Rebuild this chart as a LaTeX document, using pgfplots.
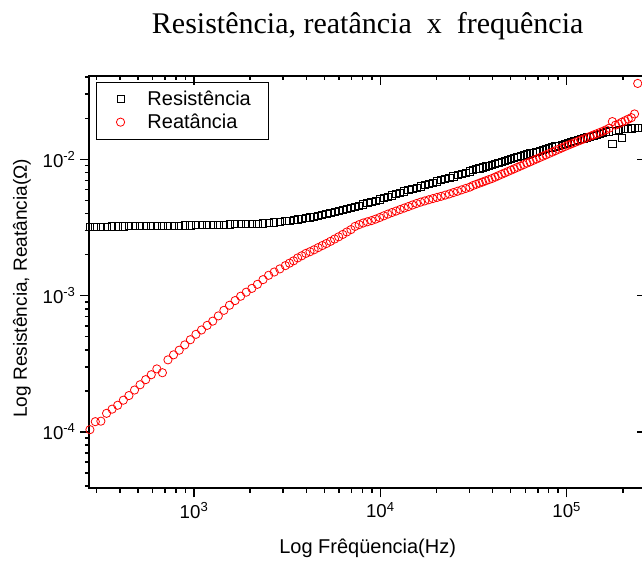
\documentclass[border=0pt]{standalone}
\usepackage{fontspec}
\setmainfont{Liberation Sans}
\newfontfamily\titlefont{Liberation Serif}
\usepackage{pgfplots}
\usepackage{pgfplotstable}
\pgfplotsset{compat=1.18}

\pgfplotstableread{
f R X
276 3.20e-3 1.04e-4
295 3.21e-3 1.19e-4
316 3.21e-3 1.20e-4
339 3.21e-3 1.37e-4
363 3.22e-3 1.47e-4
389 3.22e-3 1.57e-4
417 3.22e-3 1.71e-4
447 3.23e-3 1.85e-4
479 3.23e-3 2.03e-4
513 3.23e-3 2.22e-4
550 3.24e-3 2.42e-4
589 3.24e-3 2.63e-4
631 3.25e-3 2.90e-4
676 3.25e-3 2.72e-4
724 3.25e-3 3.38e-4
776 3.26e-3 3.68e-4
832 3.26e-3 3.98e-4
891 3.27e-3 4.35e-4
955 3.27e-3 4.75e-4
1023 3.28e-3 5.20e-4
1096 3.29e-3 5.60e-4
1175 3.30e-3 6.05e-4
1259 3.31e-3 6.50e-4
1349 3.31e-3 7.10e-4
1445 3.32e-3 7.80e-4
1549 3.33e-3 8.50e-4
1660 3.34e-3 9.20e-4
1778 3.35e-3 9.90e-4
1905 3.36e-3 1.06e-3
2042 3.37e-3 1.13e-3
2188 3.38e-3 1.21e-3
2344 3.39e-3 1.31e-3
2512 3.41e-3 1.41e-3
2692 3.44e-3 1.49e-3
2884 3.47e-3 1.57e-3
3090 3.51e-3 1.66e-3
3251 3.54e-3 1.73e-3
3420 3.58e-3 1.80e-3
3597 3.62e-3 1.89e-3
3784 3.66e-3 1.96e-3
3981 3.70e-3 2.04e-3
4188 3.75e-3 2.10e-3
4406 3.80e-3 2.17e-3
4634 3.86e-3 2.25e-3
4875 3.92e-3 2.33e-3
5129 3.98e-3 2.41e-3
5395 4.04e-3 2.50e-3
5675 4.10e-3 2.60e-3
5970 4.17e-3 2.70e-3
6281 4.24e-3 2.81e-3
6607 4.31e-3 2.93e-3
6950 4.39e-3 3.05e-3
7311 4.48e-3 3.22e-3
7691 4.57e-3 3.32e-3
8091 4.66e-3 3.41e-3
8511 4.76e-3 3.48e-3
8954 4.86e-3 3.55e-3
9419 4.97e-3 3.64e-3
9908 5.08e-3 3.74e-3
10420 5.20e-3 3.85e-3
10965 5.32e-3 3.96e-3
11535 5.44e-3 4.07e-3
12134 5.56e-3 4.17e-3
12764 5.68e-3 4.28e-3
13428 5.81e-3 4.39e-3
14125 5.94e-3 4.50e-3
14859 6.07e-3 4.62e-3
15631 6.20e-3 4.74e-3
16444 6.33e-3 4.85e-3
17298 6.46e-3 4.95e-3
18197 6.60e-3 5.05e-3
19143 6.74e-3 5.15e-3
20137 6.88e-3 5.25e-3
21184 7.03e-3 5.35e-3
22284 7.18e-3 5.46e-3
23442 7.33e-3 5.57e-3
24660 7.49e-3 5.70e-3
25942 7.65e-3 5.83e-3
27290 7.81e-3 5.97e-3
28708 7.98e-3 6.11e-3
30200 8.15e-3 6.25e-3
31405 8.32e-3 6.42e-3
32659 8.45e-3 6.55e-3
33963 8.58e-3 6.68e-3
35318 8.72e-3 6.81e-3
36728 8.86e-3 6.95e-3
38194 9.00e-3 7.09e-3
39719 9.14e-3 7.23e-3
41305 9.28e-3 7.40e-3
42954 9.43e-3 7.58e-3
44668 9.58e-3 7.76e-3
46452 9.73e-3 7.94e-3
48306 9.88e-3 8.13e-3
50234 1.004e-2 8.32e-3
52240 1.020e-2 8.52e-3
54325 1.036e-2 8.72e-3
56494 1.052e-2 8.93e-3
58749 1.069e-2 9.14e-3
61094 1.086e-2 9.36e-3
63533 1.103e-2 9.58e-3
66069 1.120e-2 9.81e-3
68707 1.137e-2 1.004e-2
71450 1.154e-2 1.028e-2
74302 1.171e-2 1.052e-2
77268 1.188e-2 1.077e-2
80353 1.205e-2 1.103e-2
83560 1.223e-2 1.129e-2
86896 1.241e-2 1.156e-2
90365 1.259e-2 1.183e-2
93972 1.278e-2 1.211e-2
97724 1.297e-2 1.240e-2
101625 1.316e-2 1.268e-2
105682 1.337e-2 1.296e-2
109901 1.358e-2 1.324e-2
114288 1.380e-2 1.353e-2
118850 1.402e-2 1.382e-2
123595 1.424e-2 1.412e-2
128529 1.446e-2 1.443e-2
133660 1.469e-2 1.474e-2
138995 1.492e-2 1.506e-2
144544 1.516e-2 1.538e-2
150314 1.540e-2 1.571e-2
156315 1.564e-2 1.605e-2
162555 1.585e-2 1.645e-2
169044 1.600e-2 1.690e-2
175792 1.290e-2 1.890e-2
182810 1.625e-2 1.780e-2
190108 1.640e-2 1.820e-2
197697 1.440e-2 1.870e-2
205589 1.665e-2 1.920e-2
213796 1.675e-2 1.970e-2
222331 1.685e-2 2.020e-2
231206 1.695e-2 2.150e-2
240436 1.700e-2 3.600e-2
}\datatab

\begin{document}
\begin{tikzpicture}
\begin{axis}[
  name=ax,
  scale only axis,
  width=417.5pt, height=309.45pt,
  xmode=log, ymode=log,
  xmin=274, xmax=266400,
  ymin=3.86e-5, ymax=0.0410,
  xtick={1e3,1e4,1e5},
  ytick={1e-4,1e-3,1e-2},
  minor xtick={300,400,500,600,700,800,900,2000,3000,4000,5000,6000,7000,8000,9000,20000,30000,40000,50000,60000,70000,80000,90000,200000},
  minor ytick={4e-5,5e-5,6e-5,7e-5,8e-5,9e-5,2e-4,3e-4,4e-4,5e-4,6e-4,7e-4,8e-4,9e-4,2e-3,3e-3,4e-3,5e-3,6e-3,7e-3,8e-3,9e-3,2e-2,3e-2,4e-2},
  major tick length=6.75pt,
  minor tick length=3.4pt,
  every tick/.style={black, line width=1.1pt},
  axis line style={line width=1.5pt},
  tick align=outside,
  xtick pos=lower, ytick pos=left,
  xticklabels={10\textsuperscript{3},10\textsuperscript{4},10\textsuperscript{5}},
  yticklabels={10\textsuperscript{-4},10\textsuperscript{-3},10\textsuperscript{-2}},
  tick label style={font=\fontsize{14}{16}\selectfont},
  xlabel={Log Frêqüencia(Hz)},
  ylabel={Log Resistência, Reatância(Ω)},
  xlabel style={at={(axis description cs:0.5,-0.159)}, anchor=base, font=\fontsize{15}{17}\selectfont},
  ylabel style={at={(axis description cs:-0.121,0.485)}, anchor=center, font=\fontsize{14.3}{17}\selectfont},
  title={\titlefont Resistência, reatância\ \ x\ \ frequência},
  title style={at={(axis description cs:0.5,1.084)}, anchor=base, font=\fontsize{22.5}{26}\selectfont},
  legend style={
    at={(rel axis cs:0.0115,0.9855)}, anchor=north west,
    draw=black, line width=0.8pt,
    inner xsep=0pt, inner ysep=4.5pt,
    font=\fontsize{15}{17}\selectfont,
    row sep=0.8pt, column sep=0pt,
  },
  legend cell align=left,
  legend image code/.code={%
    \path[draw=none, fill=none] (0pt,-3pt) rectangle (36.4pt,3pt);
    \draw[mark repeat=2,mark phase=2] plot coordinates {(0pt,0pt)(18.2pt,0pt)(36.4pt,0pt)};},
]
\addplot[only marks, mark=square, mark size=2.7pt, black, line width=0.6pt] table[x=f,y=R] {\datatab};
\addlegendentry{\makebox[89pt][l]{Resistência}}
\addplot[only marks, mark=o, mark size=3.1pt, red, line width=0.6pt] table[x=f,y=X] {\datatab};
\addlegendentry{\makebox[89pt][l]{Reatância}}
\end{axis}
\begin{axis}[
  scale only axis,
  width=417.5pt, height=309.45pt,
  xmode=log, ymode=log,
  xmin=274, xmax=266400,
  ymin=3.86e-5, ymax=0.0410,
  xtick={1e3,1e4,1e5},
  ytick={1e-4,1e-3,1e-2},
  minor xtick={300,400,500,600,700,800,900,2000,3000,4000,5000,6000,7000,8000,9000,20000,30000,40000,50000,60000,70000,80000,90000,200000},
  minor ytick={4e-5,5e-5,6e-5,7e-5,8e-5,9e-5,2e-4,3e-4,4e-4,5e-4,6e-4,7e-4,8e-4,9e-4,2e-3,3e-3,4e-3,5e-3,6e-3,7e-3,8e-3,9e-3,2e-2,3e-2,4e-2},
  major tick length=6.75pt,
  minor tick length=3.4pt,
  every tick/.style={black, line width=1.1pt},
  axis line style={draw=none},
  tick align=inside,
  xtick pos=upper, ytick pos=right,
  xticklabels={}, yticklabels={},
]
\end{axis}
\pgfresetboundingbox
\path ([xshift=-67pt,yshift=-53.8pt]ax.south west) rectangle ([xshift=-3pt,yshift=56.8pt]ax.north east);
\end{tikzpicture}
\end{document}
